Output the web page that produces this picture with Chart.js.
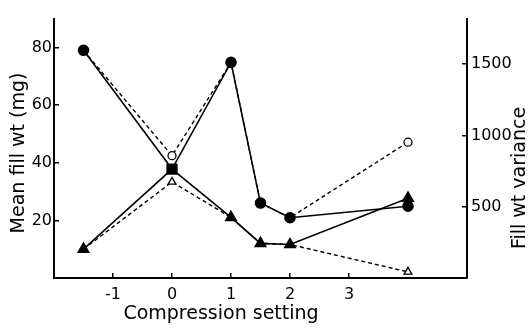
<!DOCTYPE html>
<html lang="en">
<head>
    <meta charset="UTF-8">
    <title>Fill weight vs compression setting</title>
    <script src="https://cdn.jsdelivr.net/npm/chart.js@4.4.0/dist/chart.umd.min.js"></script>
    <style>
        body { margin: 0; background: #fff; }
        #wrap { width: 528px; height: 332px; position: relative; }
    </style>
</head>
<body>
    <div id="wrap"><canvas id="chart"></canvas></div>

    <script>
        // data
        const settings = [-1.5, 0, 1, 1.5, 2, 4];
        const meanFillCircles = [79, 37.8, 74.8, 26, 20.9, 24.9];
        const meanFillTriangles = [10, 37.8, 21, 12, 11.6, 27.7];
        const varianceCircles = [1597, 858, 1512, 526, 423, 953];
        const varianceTriangles = [202, 674, 425, 243, 235, 43];

        const xTicks = [-1, 0, 1, 2, 3];
        const leftTicks = [20, 40, 60, 80];
        const rightTicks = [500, 1000, 1500];

        const FONT = '"DejaVu Sans", sans-serif';

        function points(values) {
            return settings.map((x, i) => ({ x: x, y: values[i] }));
        }

        function fixTicks(list) {
            return scale => { scale.ticks = list.map(v => ({ value: v })); };
        }

        // axis titles (right one reads bottom-to-top like the original)
        const titles = {
            id: 'titles',
            afterDraw(chart) {
                const ctx = chart.ctx;
                ctx.save();
                ctx.fillStyle = '#000';
                ctx.font = '19px ' + FONT;
                ctx.textAlign = 'center';
                ctx.textBaseline = 'middle';
                ctx.fillText('Compression setting', 221, 314);
                ctx.translate(19, 153);
                ctx.rotate(-Math.PI / 2);
                ctx.fillText('Mean fill wt (mg)', 0, 0);
                ctx.restore();
                ctx.save();
                ctx.fillStyle = '#000';
                ctx.font = '19px ' + FONT;
                ctx.textAlign = 'center';
                ctx.textBaseline = 'middle';
                ctx.translate(520, 178);
                ctx.rotate(-Math.PI / 2);
                ctx.fillText('Fill wt variance', 0, 0);
                ctx.restore();
            }
        };

        const axisGrid = { drawOnChartArea: false, tickLength: -5, color: '#000', lineWidth: 1.5 };
        const axisBorder = { color: '#000', width: 2 };
        const tickFont = { family: FONT, size: 16 };
        const plain = v => String(v);

        new Chart(document.getElementById('chart'), {
            type: 'line',
            data: {
                datasets: [
                    {
                        data: points(meanFillCircles),
                        yAxisID: 'y',
                        borderColor: '#000',
                        backgroundColor: '#000',
                        borderWidth: 1.6,
                        pointStyle: c => c.dataIndex === 1 ? 'rect' : 'circle',
                        pointRadius: c => c.dataIndex === 1 ? 6.5 : 5,
                        tension: 0
                    },
                    {
                        data: points(meanFillTriangles),
                        yAxisID: 'y',
                        borderColor: '#000',
                        backgroundColor: '#000',
                        borderWidth: 1.6,
                        pointStyle: c => c.dataIndex === 1 ? 'rect' : 'triangle',
                        pointRadius: c => c.dataIndex === 1 ? 6.5 : 6,
                        tension: 0
                    },
                    {
                        data: points(varianceCircles),
                        yAxisID: 'y2',
                        borderColor: '#000',
                        backgroundColor: '#fff',
                        borderWidth: 1.4,
                        borderDash: [4, 3],
                        pointStyle: 'circle',
                        pointRadius: 4,
                        pointBorderWidth: 1.3,
                        tension: 0
                    },
                    {
                        data: points(varianceTriangles),
                        yAxisID: 'y2',
                        borderColor: '#000',
                        backgroundColor: '#fff',
                        borderWidth: 1.4,
                        borderDash: [4, 3],
                        pointStyle: 'triangle',
                        pointRadius: 4.5,
                        pointBorderWidth: 1.3,
                        tension: 0
                    }
                ]
            },
            options: {
                responsive: true,
                maintainAspectRatio: false,
                animation: false,
                layout: { padding: { top: 13, left: 0, right: 0, bottom: 0 } },
                plugins: { legend: { display: false }, tooltip: { enabled: false } },
                scales: {
                    x: {
                        type: 'linear',
                        min: -2,
                        max: 5,
                        afterBuildTicks: fixTicks(xTicks),
                        afterFit: s => { s.height = 54; },
                        grid: axisGrid,
                        border: axisBorder,
                        ticks: { color: '#000', font: tickFont, padding: 12, maxRotation: 0, callback: plain }
                    },
                    y: {
                        position: 'left',
                        min: 0,
                        max: 90,
                        afterBuildTicks: fixTicks(leftTicks),
                        afterFit: s => { s.width = 54; },
                        grid: axisGrid,
                        border: axisBorder,
                        ticks: { color: '#000', font: tickFont, padding: 7, callback: plain }
                    },
                    y2: {
                        position: 'right',
                        min: 0,
                        max: 1820,
                        afterBuildTicks: fixTicks(rightTicks),
                        afterFit: s => { s.width = 61; },
                        grid: axisGrid,
                        border: axisBorder,
                        ticks: { color: '#000', font: tickFont, padding: 9, callback: plain }
                    }
                }
            },
            plugins: [titles]
        });
    </script>
</body>
</html>
